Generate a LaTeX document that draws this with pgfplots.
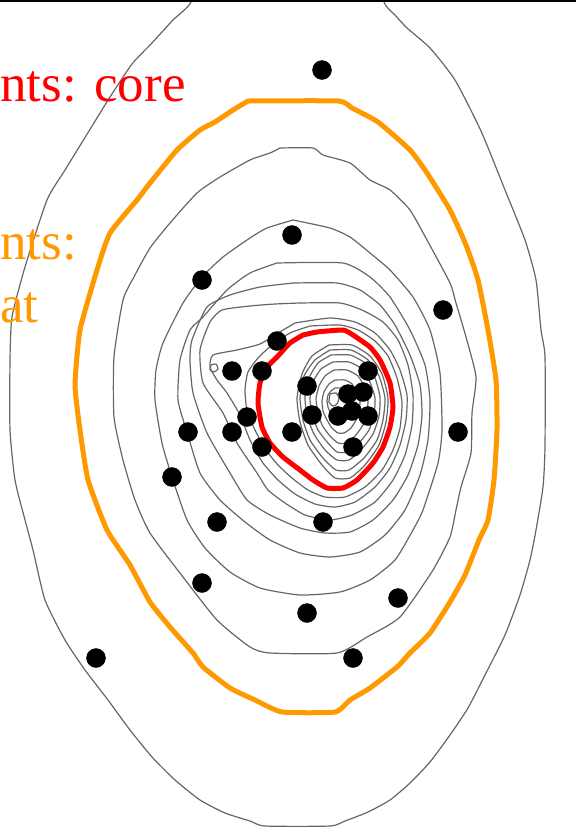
\documentclass[border=0pt]{standalone}
\usepackage{fontspec}
\setmainfont{Liberation Serif}
\usepackage{pgfplots}
\pgfplotsset{compat=1.18}

\definecolor{contourgray}{RGB}{102,102,102}
\definecolor{hullorange}{RGB}{255,153,0}
\definecolor{hullred}{RGB}{255,0,0}

\begin{document}
\begin{tikzpicture}
\begin{axis}[
  x=1pt, y=1pt, y dir=reverse,
  xmin=0, xmax=576, ymin=0, ymax=828,
  hide axis, clip=true,
  every axis plot/.append style={line join=round, line cap=round},
  level/.style={draw=contourgray, line width=1.2pt, mark=none, smooth, tension=0.35},
]
% density contours, outermost first
\addplot[level] coordinates {
(200,-40) (191,2) (173,20) (151,44) (132,64) (110,97) (89,131) (65,170) (47,200)
(25,267) (12,317) (10,360) (10,430) (15,480) (25,520) (33,550) (45,600) (65,640)
(85,670) (108,700) (130,730) (152,757) (175,780) (200,800) (225,813) (250,821)
(265,826) (330,826) (345,821) (368,812) (390,800) (410,783) (430,762) (450,735)
(468,708) (485,675) (505,635) (520,595) (530,560) (536,530) (543,487) (545,447)
(545,357) (541,330) (536,280) (525,240) (505,190) (481,131) (455,80) (430,48)
(407,28) (395,15) (384,2) (380,-40) (200,-40)};
% A
\addplot[level] coordinates {
(280,148) (313,148) (323,155) (350,163) (370,180) (390,190) (410,210) (427,240)
(450,283) (456,303) (466,337) (476,377) (472,413) (471,453) (461,487) (456,510)
(450,537) (433,570) (400,617) (367,637) (337,653) (270,653) (250,647) (217,620)
(183,577) (150,533) (135,500) (123,460) (114,417) (114,357) (123,300) (135,275)
(150,248) (170,223) (197,193) (220,177) (250,160) (270,153) (280,148)};
% B
\addplot[level] coordinates {
(293,220) (330,228) (350,237) (370,253) (390,270) (413,297) (430,330) (440,373)
(442,430) (438,463) (423,510) (413,530) (395,560) (370,580) (340,592) (300,595)
(260,588) (230,572) (205,548) (187,520) (172,477) (162,443) (155,400) (156,370)
(163,343) (183,303) (202,277) (223,257) (250,238) (267,228) (293,220)};
% C
\addplot[level] coordinates {
(277,263) (343,263) (370,277) (390,297) (410,330) (425,365) (430,400) (428,440)
(420,475) (405,510) (385,535) (360,552) (330,557) (300,553) (270,540) (245,522)
(220,500) (200,473) (187,432) (178,400) (180,360) (190,330) (203,317) (227,290)
(250,273) (277,263)};
% D
\addplot[level] coordinates {
(293,283) (337,283) (360,290) (380,305) (395,325) (410,355) (420,385) (422,415)
(418,445) (408,475) (393,500) (373,520) (350,532) (325,533) (300,528) (270,515)
(247,500) (230,473) (207,433) (193,393) (190,360) (192,340) (207,307) (230,295)
(260,287) (293,283)};
% E
\addplot[level] coordinates {
(300,303) (340,303) (362,310) (383,322) (398,340) (408,365) (413,395) (412,425)
(405,455) (393,480) (375,502) (352,515) (330,520) (305,515) (285,503) (268,490)
(257,473) (237,443) (223,413) (203,383) (200,350) (210,322) (222,310) (250,306)
(275,304) (300,303)};
% F
\addplot[level] coordinates {
(295,323) (330,318) (355,322) (375,333) (390,350) (400,370) (407,395) (406,420)
(400,445) (390,468) (375,487) (355,502) (335,507) (315,504) (295,494) (278,480)
(263,463) (250,440) (240,415) (227,393) (217,380) (210,367) (213,355) (237,350)
(260,344) (278,333) (295,323)};
% small side loop
\addplot[level] coordinates {
(211,365) (216,364) (218,369) (214,372) (210,370) (211,365)};
% G
\addplot[level] coordinates {
(310,326) (340,325) (358,330) (375,341) (388,356) (397,378) (402,402) (400,428)
(393,450) (382,470) (365,487) (345,497) (325,497) (308,490) (292,478) (278,465)
(266,450) (255,430) (247,410) (245,390) (248,372) (258,358) (272,345) (290,333)
(310,326)};
% inner rings
\addplot[level] coordinates {
(329,345) (352,345) (370,356) (382,374) (388,398) (386,422) (379,445) (365,465)
(350,478) (335,478) (322,465) (308,445) (300,422) (297,398) (302,374) (312,356) (329,345)};
\addplot[level] coordinates {
(330,350) (351,350) (368,360) (379,376) (385,398) (383,420) (377,440) (364,458)
(349,470) (336,470) (323,458) (310,440) (303,420) (300,398) (304,376) (315,360) (330,350)};
\addplot[level] coordinates {
(331,355) (350,355) (365,363) (375,378) (380,397) (379,416) (373,434) (361,450)
(349,460) (337,460) (325,450) (314,434) (307,416) (305,397) (309,378) (318,363) (331,355)};
\addplot[level] coordinates {
(333,362) (349,362) (362,369) (370,382) (375,398) (374,414) (369,430) (359,443)
(348,452) (337,452) (328,443) (318,430) (312,414) (310,398) (313,382) (321,369) (333,362)};
\addplot[level] coordinates {
(334,370) (347,370) (358,376) (364,386) (368,399) (367,412) (363,425) (355,436)
(346,443) (338,443) (330,436) (322,425) (318,412) (316,399) (319,386) (325,376) (334,370)};
\addplot[level] coordinates {
(335,380) (345,380) (352,384) (357,392) (360,401) (359,411) (356,420) (351,428)
(344,433) (338,433) (332,428) (327,420) (323,411) (322,401) (324,392) (329,384) (335,380)};
\addplot[level] coordinates {
(335,388) (341,388) (345,391) (348,395) (350,401) (350,407) (348,412) (344,417)
(340,420) (337,420) (333,417) (330,412) (328,407) (327,401) (328,395) (331,391) (335,388)};
\addplot[level] coordinates {
(330,394) (336,393) (339,398) (337,404) (333,406) (329,402) (330,394)};

% outer hull
\addplot[draw=hullorange, line width=5pt, mark=none, smooth, tension=0.3] coordinates {
(248,101) (338,101) (352,108) (378,122) (410,150) (427,173) (450,210) (466,245)
(478,280) (488,330) (496,380) (497,430) (494,480) (488,520) (479,540) (465,575)
(450,602) (430,633) (410,653) (397,667) (370,688) (350,700) (335,712) (282,712)
(255,700) (230,688) (203,667) (193,653) (170,627) (150,602) (130,565) (107,530)
(88,480) (80,430) (75,385) (80,330) (97,270) (110,233) (137,200) (150,183)
(177,150) (200,130) (215,122) (233,110) (248,101)};
% core hull
\addplot[draw=hullred, line width=5pt, mark=none, smooth, tension=0.3] coordinates {
(303,335) (317,332) (343,330) (353,335) (370,347) (380,360) (390,383) (393,407)
(390,427) (383,447) (373,463) (357,480) (343,488) (327,488) (313,480) (300,470)
(283,457) (270,443) (262,427) (258,403) (260,383) (267,367) (277,357) (290,343)
(303,335)};

% observations
\addplot[only marks, mark=*, mark size=9.5pt, color=black] coordinates {
(322,70) (292,235) (202,280) (443,310) (277,341) (232,371) (262,371) (368,371)
(307,386) (348,394) (363,392) (352,411) (338,416) (312,415) (368,416) (188,432)
(232,432) (247,417) (292,432) (262,447) (353,447) (458,432) (172,477) (217,522)
(323,522) (202,583) (307,613) (398,598) (96,658) (353,658)};

\node[anchor=base west, inner sep=0pt, text=hullred,
      font=\fontsize{53}{62}\selectfont] at (axis cs:0,101) {nts: core};
\node[anchor=base west, inner sep=0pt, text=hullorange,
      font=\fontsize{53}{62}\selectfont] at (axis cs:0,259) {nts:};
\node[anchor=base west, inner sep=0pt, text=hullorange,
      font=\fontsize{53}{62}\selectfont] at (axis cs:0,322) {at};
\draw[black, line width=1.8pt] (axis cs:0,0.9) -- (axis cs:576,0.9);
\end{axis}
\pgfresetboundingbox
\path[use as bounding box] (current axis.south west) rectangle (current axis.north east);
\end{tikzpicture}
\end{document}
